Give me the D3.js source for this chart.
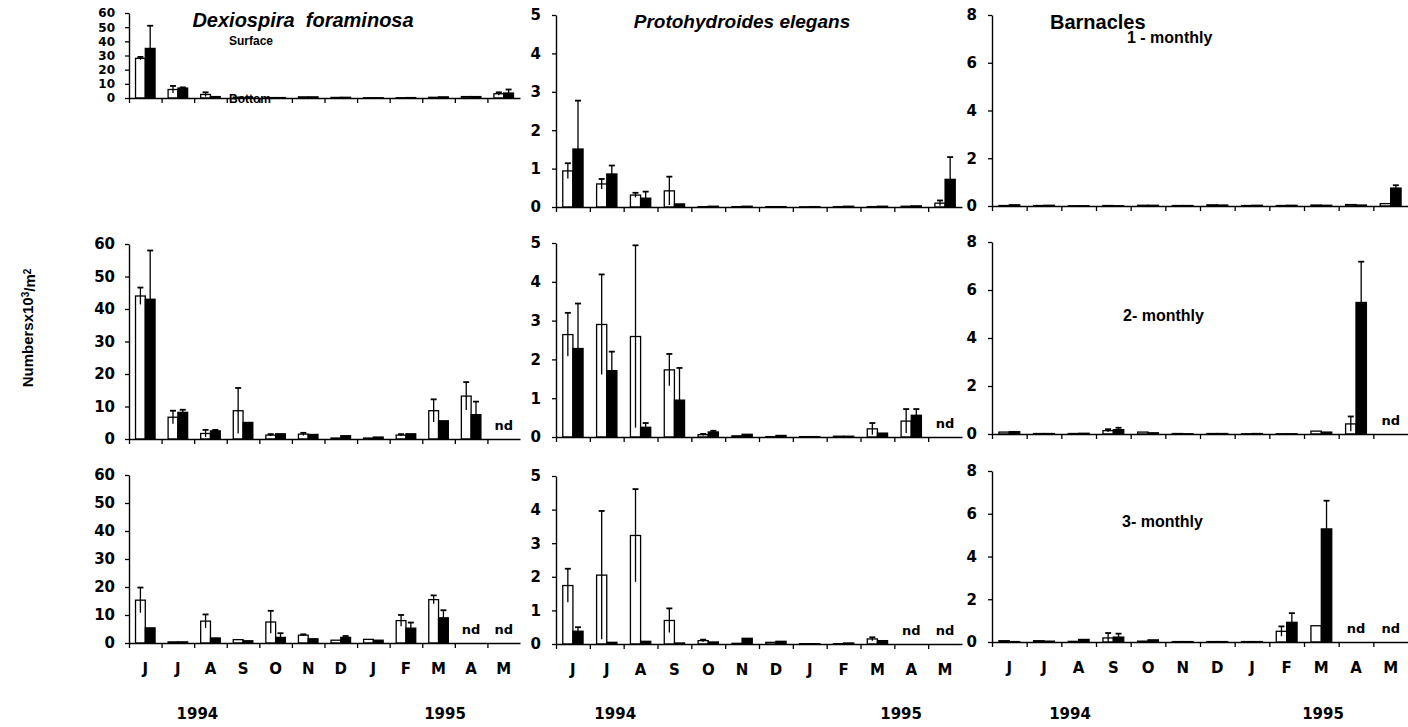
<!DOCTYPE html>
<html>
<head>
<meta charset="utf-8">
<script src="https://cdn.jsdelivr.net/npm/d3@7"></script>
<style>
  body { margin: 0; background: #fff; }
  svg text { font-family: "DejaVu Sans", sans-serif; font-weight: bold; fill: #000; }
</style>
</head>
<body>
<script>
var w = 1408, h = 727;

// month labels (June 1994 - May 1995) and years
var months = ["J", "J", "A", "S", "O", "N", "D", "J", "F", "M", "A", "M"];
var years = ["1994", "1995"];

// null = no data (nd)
// Dexiospira foraminosa, 1-monthly / 2-monthly / 3-monthly
var dex1Surf = [28, 6, 2.5, 0.6, 0.3, 0.8, 0.4, 0.2, 0.2, 0.5, 1, 3];
var dex1SurfErr = [1, 2.5, 1.5, 0, 0, 0, 0, 0, 0, 0, 0, 1];
var dex1Bot = [35, 7, 1, 0.3, 0.3, 0.8, 0.5, 0.2, 0.3, 0.8, 1, 3.5];
var dex1BotErr = [16, 0.5, 0, 0, 0, 0, 0, 0, 0, 0, 0, 2.5];

var dex2Surf = [44, 6.7, 1.7, 8.7, 1.2, 1.5, 0.3, 0.3, 1.2, 8.7, 13.2, null];
var dex2SurfErr = [2.6, 2, 1.1, 7, 0.3, 0.4, 0, 0, 0.3, 3.5, 4.3, null];
var dex2Bot = [43, 8.2, 2.5, 5.1, 1.6, 1.4, 1.0, 0.6, 1.6, 5.6, 7.5, null];
var dex2BotErr = [15, 0.8, 0.3, 0, 0, 0, 0, 0, 0, 0, 4, null];

var dex3Surf = [15.3, 0.4, 7.8, 1.2, 7.5, 2.8, 1, 1.3, 8, 15.5, null, null];
var dex3SurfErr = [4.5, 0, 2.4, 0, 4, 0.3, 0, 0, 2, 1.5, null, null];
var dex3Bot = [5.4, 0.4, 1.8, 0.8, 2, 1.5, 2, 1, 5.3, 9, null, null];
var dex3BotErr = [0, 0, 0, 0, 1.5, 0, 0.5, 0, 2, 2.7, null, null];

// Protohydroides elegans
var pro1Surf = [0.94, 0.6, 0.31, 0.42, 0.01, 0.01, 0.01, 0.005, 0.01, 0.01, 0.02, 0.1];
var pro1SurfErr = [0.2, 0.13, 0.06, 0.37, 0, 0, 0, 0, 0, 0, 0, 0.07];
var pro1Bot = [1.51, 0.86, 0.23, 0.08, 0.02, 0.02, 0.01, 0.01, 0.02, 0.02, 0.03, 0.72];
var pro1BotErr = [1.26, 0.22, 0.17, 0, 0, 0, 0, 0, 0, 0, 0, 0.58];

var pro2Surf = [2.64, 2.9, 2.59, 1.73, 0.06, 0.03, 0.01, 0.01, 0.02, 0.21, 0.41, null];
var pro2SurfErr = [0.56, 1.29, 2.35, 0.41, 0.02, 0, 0, 0, 0, 0.15, 0.31, null];
var pro2Bot = [2.28, 1.71, 0.25, 0.95, 0.13, 0.07, 0.04, 0.01, 0.02, 0.1, 0.56, null];
var pro2BotErr = [1.16, 0.49, 0.11, 0.83, 0.03, 0, 0, 0, 0, 0, 0.16, null];

var pro3Surf = [1.74, 2.05, 3.23, 0.7, 0.1, 0.02, 0.05, 0.01, 0.01, 0.15, null, null];
var pro3SurfErr = [0.5, 1.91, 1.38, 0.36, 0.03, 0, 0, 0, 0, 0.05, null, null];
var pro3Bot = [0.38, 0.05, 0.08, 0.03, 0.06, 0.17, 0.08, 0.01, 0.03, 0.1, null, null];
var pro3BotErr = [0.12, 0, 0, 0, 0, 0, 0, 0, 0, 0, null, null];

// Barnacles
var bar1Surf = [0.02, 0.02, 0.01, 0.02, 0.03, 0.02, 0.05, 0.02, 0.02, 0.04, 0.06, 0.1];
var bar1SurfErr = [0, 0, 0, 0, 0, 0, 0, 0, 0, 0, 0, 0];
var bar1Bot = [0.05, 0.03, 0.01, 0.01, 0.03, 0.02, 0.04, 0.03, 0.03, 0.03, 0.04, 0.75];
var bar1BotErr = [0, 0, 0, 0, 0, 0, 0, 0, 0, 0, 0, 0.12];

var bar2Surf = [0.08, 0.02, 0.02, 0.14, 0.08, 0.02, 0.02, 0.01, 0.01, 0.12, 0.42, null];
var bar2SurfErr = [0, 0, 0, 0.06, 0, 0, 0, 0, 0, 0, 0.31, null];
var bar2Bot = [0.1, 0.02, 0.03, 0.18, 0.05, 0.01, 0.02, 0.02, 0.01, 0.08, 5.48, null];
var bar2BotErr = [0, 0, 0, 0.08, 0, 0, 0, 0, 0, 0, 1.7, null];

var bar3Surf = [0.06, 0.06, 0.03, 0.19, 0.04, 0.02, 0.02, 0.02, 0.5, 0.76, null, null];
var bar3SurfErr = [0, 0, 0, 0.23, 0, 0, 0, 0, 0.23, 0, null, null];
var bar3Bot = [0.02, 0.04, 0.12, 0.23, 0.1, 0.02, 0.02, 0.02, 0.92, 5.29, null, null];
var bar3BotErr = [0, 0, 0, 0.16, 0, 0, 0, 0, 0.43, 1.32, null, null];

// y axis ticks per column
var dexTicks = [0, 10, 20, 30, 40, 50, 60];
var proTicks = [0, 1, 2, 3, 4, 5];
var barTicks = [0, 2, 4, 6, 8];

//LAYOUT
var cols = [
  { x0: 129, x1: 520, max: 60, ticks: dexTicks, yearAt: [2.1, 9.7] },
  { x0: 556, x1: 962, max: 5, ticks: proTicks, yearAt: [1.75, 10.2] },
  { x0: 992, x1: 1408, max: 8, ticks: barTicks, yearAt: [2.25, 9.55] }
];

var panels = [
  { col: 0, top: 13, zero: 98, fs: 12, s: dex1Surf, se: dex1SurfErr, b: dex1Bot, be: dex1BotErr },
  { col: 1, top: 15, zero: 207, s: pro1Surf, se: pro1SurfErr, b: pro1Bot, be: pro1BotErr },
  { col: 2, top: 15, zero: 206, s: bar1Surf, se: bar1SurfErr, b: bar1Bot, be: bar1BotErr },
  { col: 0, top: 244, zero: 439, s: dex2Surf, se: dex2SurfErr, b: dex2Bot, be: dex2BotErr },
  { col: 1, top: 243, zero: 437, s: pro2Surf, se: pro2SurfErr, b: pro2Bot, be: pro2BotErr },
  { col: 2, top: 242, zero: 434, s: bar2Surf, se: bar2SurfErr, b: bar2Bot, be: bar2BotErr },
  { col: 0, top: 475, zero: 643, s: dex3Surf, se: dex3SurfErr, b: dex3Bot, be: dex3BotErr, labels: true },
  { col: 1, top: 476, zero: 644, s: pro3Surf, se: pro3SurfErr, b: pro3Bot, be: pro3BotErr, labels: true },
  { col: 2, top: 471, zero: 642, s: bar3Surf, se: bar3SurfErr, b: bar3Bot, be: bar3BotErr, labels: true }
];

var svg = d3.select("body")
  .append("svg")
  .attr("width", w)
  .attr("height", h);

panels.forEach(function (p) {
  var c = cols[p.col];

  var x = d3.scaleBand()
    .domain(d3.range(months.length))
    .range([c.x0, c.x1]);

  var xb = d3.scaleLinear() // band boundaries for tick marks
    .domain([0, months.length])
    .range([c.x0, c.x1]);

  var y = d3.scaleLinear()
    .domain([0, c.max])
    .range([p.zero, p.top]);

  var g = svg.append("g");
  var bw = x.bandwidth() * 0.3;

  var rows = d3.range(months.length).map(function (i) {
    return { i: i, s: p.s[i], se: p.se[i], b: p.b[i], be: p.be[i] };
  });

  //BARS
  var series = [
    { key: "s", err: "se", dx: -bw, fill: "#fff" },
    { key: "b", err: "be", dx: 0, fill: "#000" }
  ];

  series.forEach(function (sr) {
    var d = rows.filter(function (r) { return r[sr.key] != null; });

    g.selectAll(null)
      .data(d)
      .enter()
      .append("rect")
      .attr("x", function (r) { return x(r.i) + x.bandwidth() / 2 + sr.dx; })
      .attr("y", function (r) { return y(r[sr.key]); })
      .attr("width", bw)
      .attr("height", function (r) { return p.zero - y(r[sr.key]); })
      .attr("fill", sr.fill)
      .attr("stroke", "#000")
      .attr("stroke-width", 1.3);

    //ERROR BARS
    var e = d.filter(function (r) { return r[sr.err] > 0; });
    var cx = function (r) { return x(r.i) + x.bandwidth() / 2 + sr.dx + bw / 2; };

    g.selectAll(null)
      .data(e)
      .enter()
      .append("line")
      .attr("x1", cx).attr("x2", cx)
      .attr("y1", function (r) { return y(Math.max(0, r[sr.key] - r[sr.err])); })
      .attr("y2", function (r) { return y(r[sr.key] + r[sr.err]); })
      .attr("stroke", "#000")
      .attr("stroke-width", 1.3);

    g.selectAll(null)
      .data(e)
      .enter()
      .append("line")
      .attr("x1", function (r) { return cx(r) - 3; })
      .attr("x2", function (r) { return cx(r) + 3; })
      .attr("y1", function (r) { return y(r[sr.key] + r[sr.err]); })
      .attr("y2", function (r) { return y(r[sr.key] + r[sr.err]); })
      .attr("stroke", "#000")
      .attr("stroke-width", 1.8);
  });

  // nd labels
  g.selectAll(null)
    .data(rows.filter(function (r) { return r.s == null && r.b == null; }))
    .enter()
    .append("text")
    .attr("x", function (r) { return x(r.i) + x.bandwidth() / 2; })
    .attr("y", p.zero - 9)
    .attr("text-anchor", "middle")
    .attr("font-size", "13px")
    .text("nd");

  //AXES
  var yAxis = d3.axisLeft(y)
    .tickValues(c.ticks)
    .tickFormat(d3.format("d"))
    .tickSize(4)
    .tickSizeOuter(0)
    .tickPadding(p.col == 0 ? 10 : 11);

  g.append("g")
    .attr("transform", "translate(" + c.x0 + ",0)")
    .call(yAxis)
    .call(function (a) {
      a.select(".domain").attr("stroke-width", 1.4);
      a.selectAll("text").attr("font-size", (p.fs || 15) + "px").attr("font-family", "DejaVu Sans").attr("font-weight", "bold");
      a.selectAll("line").attr("stroke-width", 1.3);
    });

  var xAxis = d3.axisBottom(xb)
    .tickValues(d3.range(months.length))
    .tickFormat("")
    .tickSize(5)
    .tickSizeOuter(0);

  g.append("g")
    .attr("transform", "translate(0," + p.zero + ")")
    .call(xAxis)
    .call(function (a) {
      a.select(".domain").attr("stroke-width", 1.4);
      a.selectAll("line").attr("stroke-width", 1.3);
    });

  if (p.labels) {
    g.append("g")
      .attr("transform", "translate(0," + p.zero + ")")
      .call(d3.axisBottom(x).tickSize(0).tickPadding(20).tickFormat(function (i) { return months[i]; }))
      .call(function (a) {
        a.select(".domain").remove();
        a.selectAll("text").attr("font-size", "15px").attr("font-family", "DejaVu Sans").attr("font-weight", "bold");
      });

    // years
    g.selectAll(null)
      .data(years)
      .enter()
      .append("text")
      .attr("x", function (d, i) { return xb(c.yearAt[i]); })
      .attr("y", 719)
      .attr("text-anchor", "middle")
      .attr("font-size", "15px")
      .text(function (d) { return d; });
  }
});

//TITLES
svg.append("text")
  .attr("x", 303).attr("y", 27)
  .attr("text-anchor", "middle")
  .style("font-family", "Liberation Sans")
  .style("font-style", "italic")
  .attr("font-size", "20px")
  .attr("xml:space", "preserve")
  .text("Dexiospira  foraminosa");

svg.append("text")
  .attr("x", 742).attr("y", 28)
  .attr("text-anchor", "middle")
  .style("font-family", "Liberation Sans")
  .style("font-style", "italic")
  .attr("font-size", "19px")
  .text("Protohydroides elegans");

svg.append("text")
  .attr("x", 1050).attr("y", 29)
  .style("font-family", "Liberation Sans")
  .attr("font-size", "20px")
  .text("Barnacles");

var subs = [
  { t: "1 - monthly", x: 1127, y: 43 },
  { t: "2- monthly", x: 1123, y: 321 },
  { t: "3- monthly", x: 1122, y: 527 }
];
svg.selectAll(null)
  .data(subs)
  .enter()
  .append("text")
  .attr("x", function (d) { return d.x; })
  .attr("y", function (d) { return d.y; })
  .style("font-family", "Liberation Sans")
  .attr("font-size", "16px")
  .text(function (d) { return d.t; });

// Surface / Bottom
svg.append("text").attr("x", 229).attr("y", 45)
  .style("font-family", "Liberation Sans").attr("font-size", "12px").text("Surface");
svg.append("text").attr("x", 229).attr("y", 103)
  .style("font-family", "Liberation Sans").attr("font-size", "12px").text("Bottom");

// y axis title
var yt = svg.append("text")
  .attr("transform", "translate(33,328) rotate(-90)")
  .attr("text-anchor", "middle")
  .style("font-family", "Liberation Sans")
  .attr("font-size", "15px");
yt.append("tspan").text("Numbersx10");
yt.append("tspan").attr("dy", "-0.45em").attr("font-size", "10px").text("3");
yt.append("tspan").attr("dy", "0.45em").text("/m");
yt.append("tspan").attr("dy", "-0.45em").attr("font-size", "10px").text("2");
</script>
</body>
</html>
